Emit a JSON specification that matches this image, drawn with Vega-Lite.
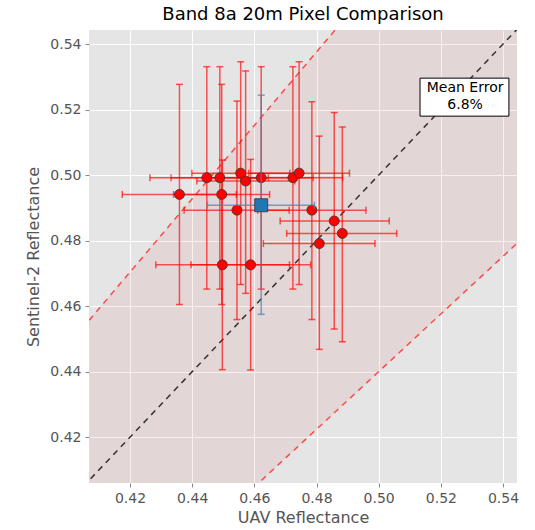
{
  "$schema": "https://vega.github.io/schema/vega-lite/v6.json",
  "autosize": "none",
  "width": 428,
  "height": 453,
  "padding": {"left": 89, "top": 30, "right": 18, "bottom": 47},
  "background": "white",
  "title": {"text": "Band 8a 20m Pixel Comparison", "fontSize": 18, "font": "DejaVu Sans", "fontWeight": "normal", "color": "#000000", "anchor": "middle", "offset": 6},
  "config": {
    "view": {"fill": "#e5e5e5", "stroke": null},
    "axis": {
      "grid": true, "gridColor": "#ffffff", "gridWidth": 1, "domain": false,
      "tickColor": "#888888", "tickSize": 4, "labelColor": "#555555", "labelFontSize": 14,
      "labelFont": "DejaVu Sans", "titleFont": "DejaVu Sans", "titleFontSize": 16,
      "titleColor": "#555555", "titleFontWeight": "normal", "labelPadding": 4
    }
  },
  "datasets": {
    "pts": [
      {"x": 0.4359, "y": 0.4941, "xlo": 0.4175, "xhi": 0.4542, "ylo": 0.4605, "yhi": 0.5277},
      {"x": 0.4495, "y": 0.4941, "xlo": 0.4340, "xhi": 0.4649, "ylo": 0.4605, "yhi": 0.5277},
      {"x": 0.4447, "y": 0.4992, "xlo": 0.4264, "xhi": 0.4629, "ylo": 0.4652, "yhi": 0.5331},
      {"x": 0.4489, "y": 0.4992, "xlo": 0.4332, "xhi": 0.4645, "ylo": 0.4652, "yhi": 0.5331},
      {"x": 0.4556, "y": 0.5006, "xlo": 0.4399, "xhi": 0.4714, "ylo": 0.4666, "yhi": 0.5346},
      {"x": 0.4572, "y": 0.4982, "xlo": 0.4415, "xhi": 0.4730, "ylo": 0.4639, "yhi": 0.5318},
      {"x": 0.4622, "y": 0.4992, "xlo": 0.4461, "xhi": 0.4789, "ylo": 0.4652, "yhi": 0.5331},
      {"x": 0.4724, "y": 0.4992, "xlo": 0.4565, "xhi": 0.4884, "ylo": 0.4652, "yhi": 0.5331},
      {"x": 0.4744, "y": 0.5006, "xlo": 0.4582, "xhi": 0.4906, "ylo": 0.4666, "yhi": 0.5346},
      {"x": 0.4544, "y": 0.4893, "xlo": 0.4374, "xhi": 0.4712, "ylo": 0.4559, "yhi": 0.5226},
      {"x": 0.4785, "y": 0.4893, "xlo": 0.4611, "xhi": 0.4959, "ylo": 0.4559, "yhi": 0.5224},
      {"x": 0.4857, "y": 0.4860, "xlo": 0.4683, "xhi": 0.5034, "ylo": 0.4530, "yhi": 0.5191},
      {"x": 0.4883, "y": 0.4822, "xlo": 0.4704, "xhi": 0.5058, "ylo": 0.4491, "yhi": 0.5147},
      {"x": 0.4809, "y": 0.4791, "xlo": 0.4629, "xhi": 0.4988, "ylo": 0.4468, "yhi": 0.5119},
      {"x": 0.4497, "y": 0.4726, "xlo": 0.4283, "xhi": 0.4713, "ylo": 0.4406, "yhi": 0.5046},
      {"x": 0.4588, "y": 0.4726, "xlo": 0.4396, "xhi": 0.4781, "ylo": 0.4405, "yhi": 0.5048}
    ],
    "mean": [
      {"x": 0.4622, "y": 0.4908, "xlo": 0.4449, "xhi": 0.4793, "ylo": 0.4575, "yhi": 0.5244}
    ],
    "lines": [
      {"x": 0.40, "one": 0.40, "lo": 0.352, "hi": 0.448},
      {"x": 0.56, "one": 0.56, "lo": 0.4928, "hi": 0.6272}
    ],
    "box": [
      {"bx1": 0.5133, "bx2": 0.5419, "by1": 0.5180, "by2": 0.5296}
    ],
    "label": [
      {"x": 0.5278, "y": 0.5267, "text": "Mean Error"},
      {"x": 0.5278, "y": 0.5213, "text": "6.8%"}
    ]
  },
  "layer": [
    {
      "data": {"name": "lines"},
      "mark": {"type": "area", "clip": true, "color": "#cd5c5c", "opacity": 0.1},
      "encoding": {
        "x": {"field": "x", "type": "quantitative", "title": "UAV Reflectance", "scale": {"domain": [0.4068, 0.5445], "nice": false, "zero": false},
              "axis": {"values": [0.42, 0.44, 0.46, 0.48, 0.5, 0.52, 0.54], "format": ".2f", "titlePadding": 4}},
        "y": {"field": "lo", "type": "quantitative", "title": "Sentinel-2 Reflectance", "scale": {"domain": [0.406, 0.5443], "nice": false, "zero": false},
              "axis": {"values": [0.42, 0.44, 0.46, 0.48, 0.5, 0.52, 0.54], "format": ".2f", "titlePadding": 8}},
        "y2": {"field": "hi"}
      }
    },
    {
      "data": {"name": "lines"},
      "mark": {"type": "line", "clip": true, "color": "#333333", "strokeDash": [6, 5], "strokeWidth": 1.5},
      "encoding": {
        "x": {"field": "x", "type": "quantitative", "title": "UAV Reflectance"},
        "y": {"field": "one", "type": "quantitative", "title": "Sentinel-2 Reflectance"}
      }
    },
    {
      "data": {"name": "lines"},
      "mark": {"type": "line", "clip": true, "color": "#ff3333", "strokeDash": [6, 5], "strokeWidth": 1.5, "opacity": 0.85},
      "encoding": {
        "x": {"field": "x", "type": "quantitative", "title": "UAV Reflectance"},
        "y": {"field": "lo", "type": "quantitative", "title": "Sentinel-2 Reflectance"}
      }
    },
    {
      "data": {"name": "lines"},
      "mark": {"type": "line", "clip": true, "color": "#ff3333", "strokeDash": [6, 5], "strokeWidth": 1.5, "opacity": 0.85},
      "encoding": {
        "x": {"field": "x", "type": "quantitative", "title": "UAV Reflectance"},
        "y": {"field": "hi", "type": "quantitative", "title": "Sentinel-2 Reflectance"}
      }
    },
    {
      "data": {"name": "pts"},
      "mark": {"type": "errorbar", "ticks": {"size": 7}, "color": "#ff0000", "opacity": 0.65, "thickness": 1.5},
      "encoding": {
        "x": {"field": "x", "type": "quantitative", "title": "UAV Reflectance"},
        "y": {"field": "ylo", "type": "quantitative", "title": "Sentinel-2 Reflectance"},
        "y2": {"field": "yhi"}
      }
    },
    {
      "data": {"name": "pts"},
      "mark": {"type": "errorbar", "ticks": {"size": 7}, "color": "#ff0000", "opacity": 0.65, "thickness": 1.5},
      "encoding": {
        "y": {"field": "y", "type": "quantitative", "title": "Sentinel-2 Reflectance"},
        "x": {"field": "xlo", "type": "quantitative", "title": "UAV Reflectance"},
        "x2": {"field": "xhi"}
      }
    },
    {
      "data": {"name": "pts"},
      "mark": {"type": "point", "shape": "circle", "filled": true, "size": 100, "color": "#ff0000", "stroke": "#333333", "strokeWidth": 0.8, "opacity": 1},
      "encoding": {
        "x": {"field": "x", "type": "quantitative", "title": "UAV Reflectance"},
        "y": {"field": "y", "type": "quantitative", "title": "Sentinel-2 Reflectance"}
      }
    },
    {
      "data": {"name": "mean"},
      "mark": {"type": "errorbar", "ticks": {"size": 7}, "color": "#4c7fb5", "opacity": 0.7, "thickness": 1.5},
      "encoding": {
        "x": {"field": "x", "type": "quantitative", "title": "UAV Reflectance"},
        "y": {"field": "ylo", "type": "quantitative", "title": "Sentinel-2 Reflectance"},
        "y2": {"field": "yhi"}
      }
    },
    {
      "data": {"name": "mean"},
      "mark": {"type": "errorbar", "ticks": {"size": 7}, "color": "#4c7fb5", "opacity": 0.7, "thickness": 1.5},
      "encoding": {
        "y": {"field": "y", "type": "quantitative", "title": "Sentinel-2 Reflectance"},
        "x": {"field": "xlo", "type": "quantitative", "title": "UAV Reflectance"},
        "x2": {"field": "xhi"}
      }
    },
    {
      "data": {"name": "mean"},
      "mark": {"type": "point", "shape": "square", "filled": true, "size": 170, "color": "#1f77b4", "stroke": "#333333", "strokeWidth": 0.8, "opacity": 1},
      "encoding": {
        "x": {"field": "x", "type": "quantitative", "title": "UAV Reflectance"},
        "y": {"field": "y", "type": "quantitative", "title": "Sentinel-2 Reflectance"}
      }
    },
    {
      "data": {"name": "box"},
      "mark": {"type": "rect", "fill": "#ffffff", "stroke": "#000000", "strokeWidth": 1},
      "encoding": {
        "x": {"field": "bx1", "type": "quantitative", "title": "UAV Reflectance"},
        "x2": {"field": "bx2"},
        "y": {"field": "by1", "type": "quantitative", "title": "Sentinel-2 Reflectance"},
        "y2": {"field": "by2"}
      }
    },
    {
      "data": {"name": "label"},
      "mark": {"type": "text", "font": "DejaVu Sans", "fontSize": 14, "color": "#000000", "align": "center", "baseline": "middle"},
      "encoding": {
        "x": {"field": "x", "type": "quantitative", "title": "UAV Reflectance"},
        "y": {"field": "y", "type": "quantitative", "title": "Sentinel-2 Reflectance"},
        "text": {"field": "text"}
      }
    }
  ]
}
